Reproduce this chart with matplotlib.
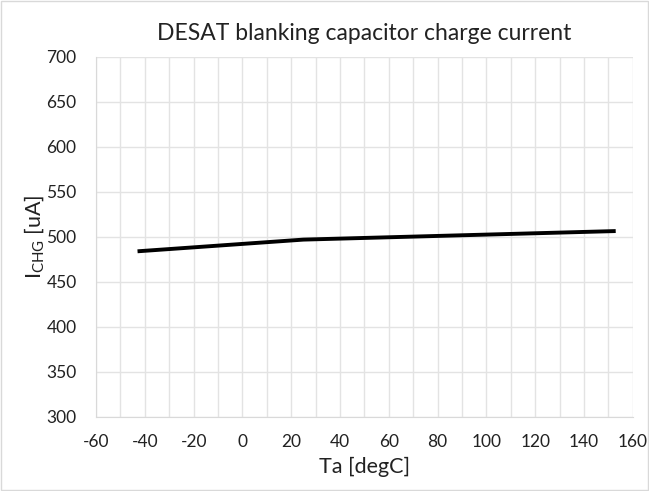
import matplotlib
matplotlib.use("Agg")
import matplotlib.pyplot as plt
from matplotlib.ticker import MultipleLocator
from matplotlib.patches import Rectangle

temps = [-43, 25, 153]
current = [484, 497, 506.5]
x_ticks = [-60, -40, -20, 0, 20, 40, 60, 80, 100, 120, 140, 160]
y_ticks = [300, 350, 400, 450, 500, 550, 600, 650, 700]

plt.rcParams['font.family'] = ['Lato', 'DejaVu Sans']
plt.rcParams['mathtext.fontset'] = 'custom'
plt.rcParams['mathtext.rm'] = 'Lato'
plt.rcParams['mathtext.it'] = 'Lato'
plt.rcParams['axes.unicode_minus'] = False

fig = plt.figure(figsize=(6.49, 4.91), dpi=100)
ax = fig.add_axes([0.148, 0.151, 0.827, 0.733])

ax.plot(temps, current, color='black', lw=2.8, solid_capstyle='butt', zorder=3)

ax.set_xlim(-60, 160)
ax.set_ylim(300, 700)
ax.set_xticks(x_ticks)
ax.set_yticks(y_ticks)
ax.xaxis.set_minor_locator(MultipleLocator(10))
ax.grid(True, which='major', color='#e3e3e3', lw=1)
ax.grid(True, which='minor', axis='x', color='#e3e3e3', lw=1)
ax.set_axisbelow(True)
ax.tick_params(which='both', length=0, labelsize=12.5, colors='#222222')
ax.tick_params(axis='x', pad=12)
ax.tick_params(axis='y', pad=14)
for s in ['top', 'right']:
    ax.spines[s].set_visible(False)
for s in ['left', 'bottom']:
    ax.spines[s].set_color('#d9d9d9')

ax.set_title('DESAT blanking capacitor charge current', fontsize=16.5, color='#222222', pad=12)
ax.set_xlabel('Ta [degC]', fontsize=15.5, color='#222222', labelpad=5)
ax.set_ylabel(r'I$_{\mathrm{CHG}}$ [uA]', fontsize=15.5, color='#222222', labelpad=0)

fig.patches.append(Rectangle((0.002, 0.002), 0.996, 0.996, transform=fig.transFigure,
                             fill=False, edgecolor='#d9d9d9', lw=1))

fig.savefig('out.png', dpi=100)
